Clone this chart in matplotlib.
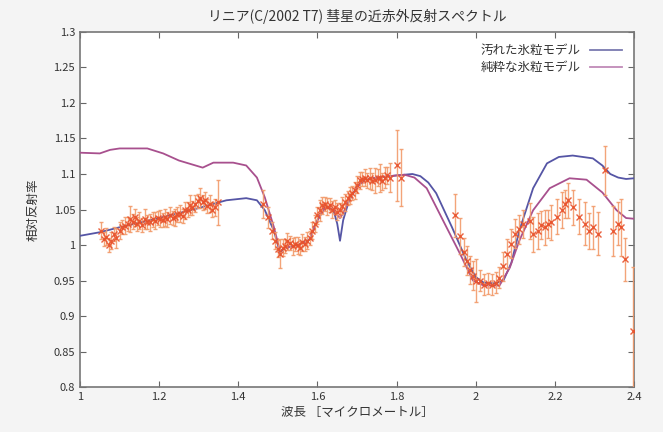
import matplotlib
matplotlib.use('Agg')
import matplotlib.pyplot as plt
from matplotlib.ticker import FuncFormatter, MultipleLocator

plt.rcParams['font.family'] = ['Noto Sans CJK JP', 'DejaVu Sans']

# observed spectrum (wavelength, reflectance, error)
obs_x = [1.053, 1.060, 1.066, 1.072, 1.078, 1.085, 1.090, 1.100, 1.106, 1.113,
         1.120, 1.126, 1.133, 1.139, 1.145, 1.150, 1.157, 1.164, 1.170, 1.177,
         1.184, 1.190, 1.196, 1.203, 1.209, 1.215, 1.221, 1.227, 1.234, 1.240,
         1.246, 1.253, 1.259, 1.265, 1.272, 1.278, 1.284, 1.290, 1.297, 1.303,
         1.310, 1.316, 1.322, 1.328, 1.334, 1.340, 1.348,
         1.463, 1.475, 1.485, 1.492, 1.500, 1.505, 1.512, 1.518, 1.524, 1.530,
         1.537, 1.543, 1.550, 1.556, 1.562, 1.568, 1.574, 1.580, 1.587, 1.593,
         1.600, 1.606, 1.612, 1.619, 1.625, 1.631, 1.638, 1.644, 1.650, 1.657,
         1.663, 1.670, 1.676, 1.682, 1.688, 1.694, 1.700, 1.707, 1.713, 1.720,
         1.726, 1.733, 1.739, 1.745, 1.752, 1.758, 1.764, 1.770, 1.777, 1.783,
         1.800, 1.812,
         1.947, 1.960, 1.970, 1.977, 1.985, 1.993, 2.000, 2.010, 2.020, 2.030,
         2.040, 2.050, 2.060, 2.070, 2.078, 2.090, 2.100, 2.110, 2.120, 2.136,
         2.145, 2.157, 2.165, 2.174, 2.182, 2.190, 2.205, 2.217, 2.225, 2.233,
         2.245, 2.260, 2.275, 2.285, 2.296, 2.310, 2.326, 2.347, 2.360, 2.368,
         2.377, 2.397]
obs_y = [1.020, 1.008, 1.012, 1.000, 1.006, 1.015, 1.010, 1.020, 1.025, 1.027,
         1.030, 1.037, 1.033, 1.039, 1.030, 1.034, 1.028, 1.037, 1.032, 1.032,
         1.036, 1.034, 1.038, 1.037, 1.035, 1.039, 1.036, 1.042, 1.038, 1.039,
         1.043, 1.044, 1.041, 1.049, 1.050, 1.056, 1.052, 1.058, 1.062, 1.066,
         1.060, 1.063, 1.055, 1.058, 1.050, 1.053, 1.060,
         1.058, 1.039, 1.020, 1.006, 0.995, 0.988, 0.996, 0.999, 1.005, 1.003,
         0.998, 1.002, 1.000, 0.996, 1.004, 1.002, 1.006, 1.010, 1.020, 1.030,
         1.042, 1.049, 1.056, 1.058, 1.054, 1.056, 1.050, 1.053, 1.047, 1.049,
         1.055, 1.060, 1.066, 1.070, 1.073, 1.077, 1.085, 1.091, 1.093, 1.095,
         1.091, 1.094, 1.090, 1.091, 1.095, 1.094, 1.090, 1.095, 1.098, 1.095,
         1.112, 1.095,
         1.042, 1.013, 0.990, 0.978, 0.965, 0.957, 0.950, 0.950, 0.944, 0.946,
         0.944, 0.947, 0.954, 0.970, 0.988, 1.002, 1.016, 1.022, 1.030, 1.034,
         1.015, 1.020, 1.028, 1.025, 1.030, 1.032, 1.040, 1.049, 1.058, 1.063,
         1.053, 1.040, 1.030, 1.020, 1.025, 1.016, 1.105, 1.020, 1.030, 1.025,
         0.980, 0.879]
obs_err = [0.012, 0.010, 0.012, 0.010, 0.012, 0.010, 0.014, 0.012, 0.010, 0.012,
           0.010, 0.018, 0.010, 0.012, 0.010, 0.012, 0.010, 0.014, 0.010, 0.012,
           0.010, 0.012, 0.010, 0.012, 0.010, 0.012, 0.010, 0.012, 0.010, 0.012,
           0.010, 0.012, 0.010, 0.012, 0.010, 0.014, 0.010, 0.012, 0.010, 0.014,
           0.010, 0.012, 0.010, 0.012, 0.010, 0.012, 0.032,
           0.020, 0.015, 0.012, 0.012, 0.012, 0.020, 0.012, 0.010, 0.012, 0.010,
           0.012, 0.010, 0.012, 0.010, 0.012, 0.010, 0.012, 0.010, 0.012, 0.012,
           0.012, 0.015, 0.012, 0.010, 0.012, 0.010, 0.012, 0.010, 0.012, 0.010,
           0.012, 0.012, 0.010, 0.012, 0.010, 0.012, 0.012, 0.012, 0.010, 0.012,
           0.010, 0.015, 0.012, 0.018, 0.012, 0.020, 0.012, 0.015, 0.012, 0.020,
           0.050, 0.040,
           0.030, 0.025, 0.020, 0.020, 0.020, 0.020, 0.030, 0.015, 0.015, 0.015,
           0.015, 0.015, 0.015, 0.020, 0.020, 0.020, 0.020, 0.020, 0.020, 0.025,
           0.025, 0.025, 0.020, 0.025, 0.020, 0.025, 0.025, 0.025, 0.020, 0.025,
           0.025, 0.025, 0.030, 0.025, 0.030, 0.030, 0.035, 0.035, 0.030, 0.040,
           0.030, 0.090]

# dirty ice model
dirty_x = [1.00, 1.05, 1.10, 1.17, 1.25, 1.30, 1.337, 1.37, 1.42, 1.447, 1.467,
           1.49, 1.505, 1.52, 1.55, 1.58, 1.60, 1.62, 1.64, 1.65, 1.657, 1.665,
           1.68, 1.70, 1.72, 1.75, 1.80, 1.84, 1.86, 1.88, 1.90, 1.94, 1.977,
           2.00, 2.02, 2.05, 2.07, 2.09, 2.11, 2.145, 2.18, 2.21, 2.245, 2.296,
           2.32, 2.34, 2.36, 2.38, 2.40]
dirty_y = [1.013, 1.018, 1.025, 1.034, 1.045, 1.052, 1.058, 1.063, 1.066, 1.063,
           1.049, 1.020, 0.990, 0.996, 1.000, 1.008, 1.035, 1.054, 1.050, 1.030,
           1.006, 1.035, 1.063, 1.082, 1.092, 1.095, 1.098, 1.100, 1.097, 1.088,
           1.073, 1.025, 0.978, 0.955, 0.947, 0.946, 0.950, 0.975, 1.020, 1.080,
           1.115, 1.124, 1.126, 1.122, 1.112, 1.100, 1.095, 1.093, 1.094]

# pure ice model
pure_x = [1.00, 1.05, 1.076, 1.10, 1.17, 1.21, 1.25, 1.286, 1.31, 1.337, 1.387,
          1.42, 1.447, 1.467, 1.49, 1.505, 1.52, 1.55, 1.58, 1.60, 1.62, 1.64,
          1.65, 1.657, 1.665, 1.68, 1.70, 1.72, 1.75, 1.80, 1.82, 1.845, 1.876,
          1.917, 1.96, 1.993, 2.02, 2.06, 2.086, 2.11, 2.145, 2.187, 2.237,
          2.28, 2.32, 2.356, 2.38, 2.40]
pure_y = [1.130, 1.129, 1.134, 1.136, 1.136, 1.129, 1.119, 1.113, 1.109, 1.116,
          1.116, 1.112, 1.095, 1.067, 1.025, 0.992, 0.996, 1.000, 1.008, 1.035,
          1.054, 1.050, 1.042, 1.038, 1.045, 1.063, 1.082, 1.092, 1.095, 1.098,
          1.099, 1.095, 1.080, 1.035, 0.988, 0.950, 0.943, 0.943, 0.968, 1.006,
          1.049, 1.080, 1.094, 1.092, 1.074, 1.049, 1.038, 1.037]

fig = plt.figure(figsize=(6.63, 4.32), dpi=100, facecolor='#f4f4f4')
ax = fig.add_axes([0.1207, 0.104, 0.8356, 0.822])
ax.set_facecolor('white')

ax.plot(dirty_x, dirty_y, color='#5555a5', lw=1.3, label='汚れた氷粒モデル', zorder=3)
ax.plot(pure_x, pure_y, color='#a8508e', lw=1.3, label='純粋な氷粒モデル', zorder=3)

ax.errorbar(obs_x, obs_y, yerr=obs_err, fmt='x', color='#e8502a', ms=5, mew=1.0,
            ecolor='#f29a6a', elinewidth=1.0, capsize=1.5, alpha=0.9, zorder=4)

ax.set_xlim(1, 2.4)
ax.set_ylim(0.8, 1.3)
ax.xaxis.set_major_locator(MultipleLocator(0.2))
ax.yaxis.set_major_locator(MultipleLocator(0.05))
fmt = FuncFormatter(lambda v, p: '%g' % round(v, 2))
ax.xaxis.set_major_formatter(fmt)
ax.yaxis.set_major_formatter(fmt)
ax.tick_params(direction='in', top=True, right=True, length=4, width=0.8,
               colors='#666666', labelcolor='#333333', labelsize=8)
for s in ax.spines.values():
    s.set_color('#777777')
    s.set_linewidth(1.2)

ax.set_title('リニア(C/2002 T7) 彗星の近赤外反射スペクトル', fontsize=10,
             color='#333333', pad=8)
ax.set_xlabel('波長 ［マイクロメートル］', fontsize=9, color='#333333', labelpad=3)
ax.set_ylabel('相対反射率', fontsize=9, color='#333333', labelpad=10)

leg = ax.legend(loc='upper right', frameon=False, markerfirst=False,
                fontsize=9, handlelength=2.5, borderaxespad=0.6,
                labelspacing=0.3)
leg.get_lines()[0].set_color('#7a7ab0')
leg.get_lines()[1].set_color('#c08ab8')
for t in leg.get_texts():
    t.set_color('#333333')

fig.savefig('out.png', dpi=100, facecolor=fig.get_facecolor())
